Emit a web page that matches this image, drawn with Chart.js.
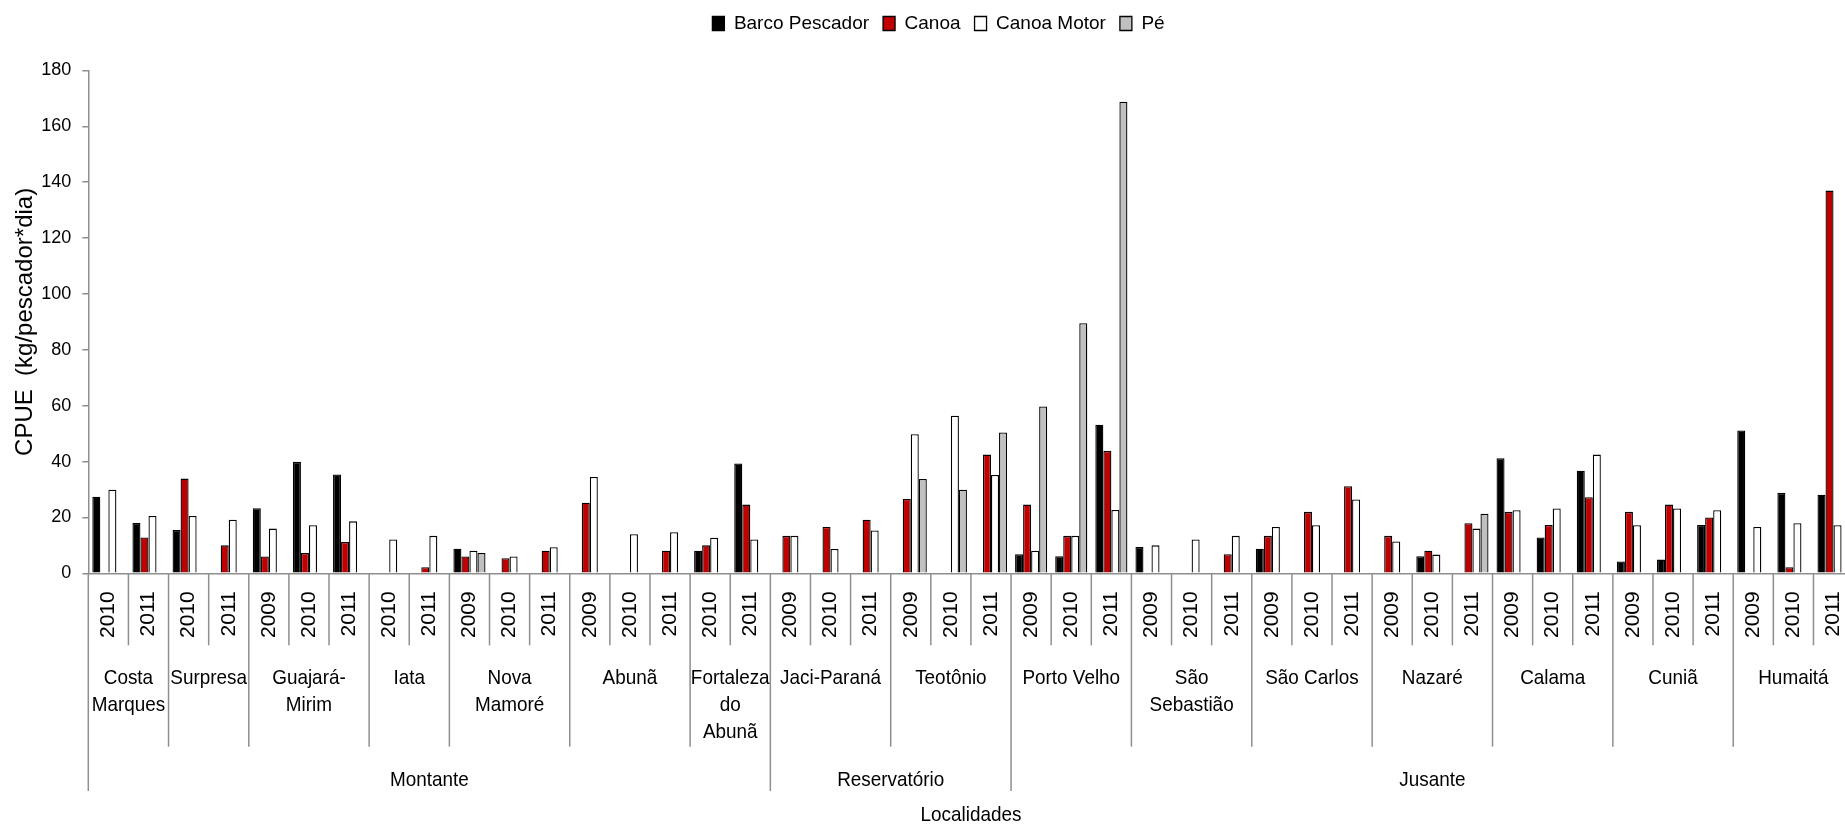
<!DOCTYPE html>
<html>
<head>
<meta charset="utf-8">
<script src="https://cdn.jsdelivr.net/npm/chart.js@4.4.1/dist/chart.umd.min.js"></script>
<style>
html, body { margin: 0; padding: 0; overflow: hidden; background: #fff; }
#wrap { width: 1877px; height: 825px; }
</style>
</head>
<body>
<div id="wrap"><canvas id="c" width="1877" height="825"></canvas></div>
<script>
// ---------- DATA ----------
const years = ['2010','2011','2010','2011','2009','2010','2011','2010','2011','2009','2010','2011','2009','2010','2011','2010','2011',
               '2009','2010','2011','2009','2010','2011',
               '2009','2010','2011','2009','2010','2011','2009','2010','2011','2009','2010','2011','2009','2010','2011','2009','2010','2011','2009','2010','2011'];
const localities = [['Costa','Marques'],['Surpresa'],['Guajará-','Mirim'],['Iata'],['Nova','Mamoré'],['Abunã'],['Fortaleza','do','Abunã'],
                    ['Jaci-Paraná'],['Teotônio'],
                    ['Porto Velho'],['São','Sebastião'],['São Carlos'],['Nazaré'],['Calama'],['Cuniã'],['Humaitá']];
const localitySpans = [2,2,3,2,3,3,2, 3,3, 3,3,3,3,3,3,3];
const regions = ['Montante','Reservatório','Jusante'];
const regionSpans = [17,6,21];
const seriesNames = ['Barco Pescador','Canoa','Canoa Motor','Pé'];

const barcoPescador = [27.4,18.0,15.5,null,23.3,39.9,35.4,null,null,8.8,null,null,null,null,null,8.1,39.3,
                       null,null,null,null,null,null,
                       6.8,6.1,53.2,9.4,null,null,8.8,null,null,null,6.1,null,41.2,12.8,36.7,4.2,4.9,17.3,51.1,28.8,28.1];
const canoa = [null,12.8,33.9,10.0,6.0,7.3,11.2,null,2.2,6.0,5.4,8.1,25.3,null,8.1,10.0,24.6,
               13.4,16.6,19.2,26.6,null,42.5,
               24.6,13.4,43.8,null,null,6.8,13.4,22.0,31.2,13.4,8.1,17.9,22.0,17.3,27.2,22.0,24.6,20.0,null,2.2,137.0];
const canoaMotor = [29.9,20.5,20.5,19.2,16.0,17.2,18.6,12.1,13.4,8.1,6.0,9.3,34.5,14.0,14.7,12.7,12.1,
                    13.4,8.7,15.3,49.8,56.4,35.2,
                    8.1,13.4,22.7,10.0,12.1,13.4,16.6,17.2,26.4,11.4,6.7,16.0,22.6,23.2,42.5,17.2,23.2,22.6,16.6,17.9,17.2];
const pe = [null,null,null,null,null,null,null,null,null,7.3,null,null,null,null,null,null,null,
            null,null,null,33.8,29.9,50.4,
            59.7,89.5,168.8,null,null,null,null,null,null,null,null,21.3,null,null,null,null,null,null,null,null,null];

const yMin = 0, yMax = 180, yStep = 20;
const yTitle = 'CPUE  (kg/pescador*dia)';
const xTitle = 'Localidades';

// ---------- STYLE ----------
const FONT = "'Liberation Sans', Arial, Helvetica, sans-serif";
const AXIS = '#8f8f8f';

function condText(ctx, text, x, y, sx) {
  ctx.save();
  ctx.translate(x, y);
  ctx.scale(sx, 1);
  ctx.fillText(text, 0, 0);
  ctx.restore();
}

const lowerAxis = {
  id: 'lowerAxis',
  afterDraw(chart) {
    const xs = chart.scales.x, ctx = chart.ctx;
    const step = xs.getPixelForValue(1) - xs.getPixelForValue(0);
    const edge = i => xs.getPixelForValue(0) + (i - 0.5) * step;
    const base = chart.chartArea.bottom;
    const yearEnd = base + 72, locEnd = base + 173.4, regEnd = base + 217.7;
    const locB = new Set([0]); let acc = 0;
    localitySpans.forEach(s => { acc += s; locB.add(acc); });
    const regB = new Set([0]); acc = 0;
    regionSpans.forEach(s => { acc += s; regB.add(acc); });
    ctx.save();
    ctx.strokeStyle = AXIS; ctx.lineWidth = 1.5;
    for (let i = 0; i <= years.length; i++) {
      const x = edge(i);
      const end = regB.has(i) ? regEnd : (locB.has(i) ? locEnd : yearEnd);
      ctx.beginPath(); ctx.moveTo(x, base); ctx.lineTo(x, end); ctx.stroke();
    }
    ctx.fillStyle = '#000';
    ctx.font = '21px ' + FONT;
    ctx.textAlign = 'center'; ctx.textBaseline = 'middle';
    const SX = 0.9;
    acc = 0;
    localities.forEach((lines, k) => {
      const cx = (edge(acc) + edge(acc + localitySpans[k])) / 2;
      lines.forEach((t, j) => condText(ctx, t, cx, base + 104.7 + j * 27, SX));
      acc += localitySpans[k];
    });
    acc = 0;
    regions.forEach((r, k) => {
      const cx = (edge(acc) + edge(acc + regionSpans[k])) / 2;
      condText(ctx, r, cx, base + 206.7, SX);
      acc += regionSpans[k];
    });
    condText(ctx, xTitle, (xs.left + xs.right) / 2, base + 241.5, SX);
    ctx.restore();
  }
};

Chart.defaults.color = '#000';
Chart.defaults.font.family = FONT;

const fills = ['#000000', '#C00000', '#FFFFFF', '#C0C0C0'];
const seriesData = [barcoPescador, canoa, canoaMotor, pe];

new Chart(document.getElementById('c'), {
  type: 'bar',
  data: {
    labels: years,
    datasets: seriesNames.map((n, i) => ({
      label: n, data: seriesData[i], xAxisID: 'x', yAxisID: 'y',
      backgroundColor: fills[i], borderColor: '#000000', borderWidth: 1.3,
      categoryPercentage: 0.8, barPercentage: 1.0
    }))
  },
  options: {
    responsive: false,
    animation: false,
    layout: { padding: 0 },
    plugins: {
      legend: {
        position: 'top',
        labels: { font: { size: 19, family: FONT }, color: '#000', boxWidth: 12, boxHeight: 14, padding: 14 }
      },
      tooltip: { enabled: false }
    },
    scales: {
      x: {
        type: 'category', position: 'bottom',
        grid: { display: false, drawTicks: false },
        border: { display: true, color: AXIS, width: 1.5 },
        ticks: { autoSkip: false, minRotation: 90, maxRotation: 90, padding: 18, color: '#000', font: { size: 21, family: FONT } },
        title: { display: false },
        afterFit: s => { s.height = 251.7; }
      },
      xTop: {
        type: 'category', position: 'top', display: true,
        grid: { display: false, drawTicks: false }, border: { display: false }, ticks: { display: false },
        afterFit: s => { s.height = 27.5; }
      },
      y: {
        type: 'linear', position: 'left', min: yMin, max: yMax,
        ticks: { stepSize: yStep, padding: 11, color: '#000', font: { size: 18, family: FONT } },
        grid: { drawOnChartArea: false, drawTicks: true, tickLength: 6, color: AXIS, lineWidth: 1.5 },
        border: { display: true, color: AXIS, width: 1.5 },
        title: { display: true, text: yTitle, color: '#000', font: { size: 24, family: FONT }, padding: { top: 11, bottom: 0 } },
        afterFit: s => { s.width = 88.3; }
      },
      yRight: {
        type: 'linear', position: 'right', display: true,
        grid: { display: false, drawTicks: false }, border: { display: false }, ticks: { display: false },
        afterFit: s => { s.width = 16.4; }
      }
    }
  },
  plugins: [lowerAxis]
});
</script>
</body>
</html>
